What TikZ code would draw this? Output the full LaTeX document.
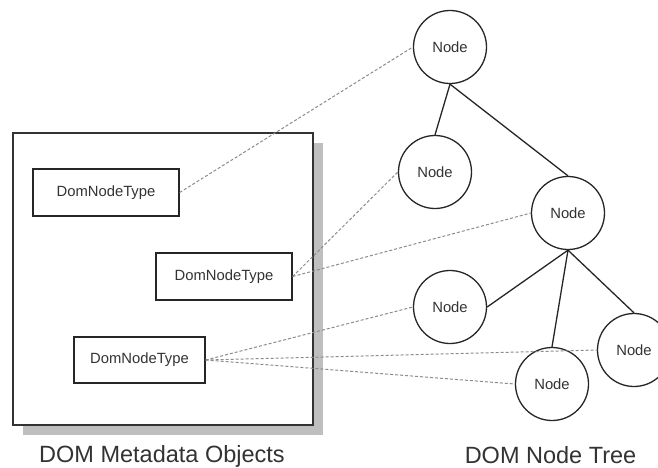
\documentclass[tikz,border=0pt]{standalone}
\usepackage{fontspec}
\setmainfont{Liberation Sans}
\begin{document}
\begin{tikzpicture}[x=1pt,y=-1pt,
  txt/.style={text=black!80, font=\fontsize{14.8}{18}\selectfont},
  typebox/.style={txt, draw=black!85, line width=1.3pt, rectangle, inner sep=0pt},
  treenode/.style={txt, draw=black!85, line width=1.3pt, circle, minimum size=73pt, inner sep=0pt},
  tree/.style={draw=black!85, line width=1.3pt},
  link/.style={draw=black!45, line width=1pt, dash pattern=on 3pt off 2pt},
  caption/.style={text=black!80, font=\fontsize{23.5}{28}\selectfont}]
  \useasboundingbox (0,0) rectangle (658,467);
  \clip (0,0) rectangle (658,467);
  \fill[white] (0,0) rectangle (658,467);

  % metadata container with its drop shadow
  \fill[black!25] (23,143) rectangle (323,435);
  \draw[fill=white, draw=black!80, line width=1.8pt] (13,133) rectangle (313,425);

  % metadata objects
  \node[typebox, minimum width=146pt, minimum height=47pt] (b1) at (106,192.5) {DomNodeType};
  \node[typebox, minimum width=136pt, minimum height=47pt] (b2) at (224,276.5) {DomNodeType};
  \node[typebox, minimum width=131pt, minimum height=46pt] (b3) at (139.5,360) {DomNodeType};

  % node tree
  \node[treenode] (n1) at (450,47) {Node};
  \node[treenode] (n2) at (435,172) {Node};
  \node[treenode] (n3) at (568,213) {Node};
  \node[treenode] (n4) at (450,307) {Node};
  \node[treenode] (n5) at (552,384) {Node};
  \node[treenode] (n6) at (634,350) {Node};

  \path[tree] (n1.south) -- (n2.north);
  \path[tree] (n1.south) -- (n3.north);
  \path[tree] (n3.south) -- (n4.east);
  \path[tree] (n3.south) -- (n5.north);
  \path[tree] (n3.south) -- (n6.north);

  % links from metadata objects to tree nodes
  \path[link] (b1.east) -- (n1.west);
  \path[link] (b2.east) -- (n2.west);
  \path[link] (b2.east) -- (n3.west);
  \path[link] (b3.east) -- (n4.west);
  \path[link] (b3.east) -- (n6.west);
  \path[link] (b3.east) -- (n5.west);

  % captions
  \node[caption] (capL) at (162,456) {DOM Metadata Objects};
  \node[caption] (capR) at (550.5,455) {DOM Node Tree};
\end{tikzpicture}
\end{document}
